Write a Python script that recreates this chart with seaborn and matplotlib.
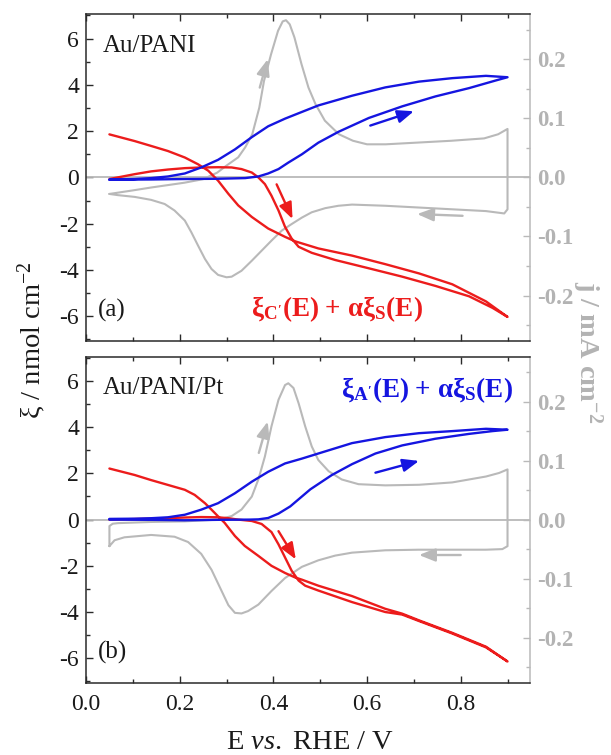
import numpy as np
import pandas as pd
import matplotlib
matplotlib.use("Agg")
import matplotlib.pyplot as plt
from matplotlib.ticker import MultipleLocator
import seaborn as sns

# ---------------- data ----------------
# Panel (a) Au/PANI -- cyclic voltammogram (right axis, mA cm-2)
a_cv_an_E = [0.05, 0.10, 0.14, 0.21, 0.25, 0.28, 0.30, 0.325, 0.34, 0.355, 0.37, 0.38, 0.395,
             0.41, 0.42, 0.427, 0.435, 0.445, 0.46, 0.475, 0.49, 0.51, 0.54, 0.57, 0.60, 0.64,
             0.71, 0.78, 0.85, 0.88, 0.90]
a_cv_an_j = [-0.028, -0.022, -0.017, -0.009, -0.003, 0.008, 0.020, 0.034, 0.051, 0.073, 0.118,
             0.163, 0.208, 0.248, 0.264, 0.266, 0.259, 0.237, 0.192, 0.152, 0.124, 0.096, 0.073,
             0.062, 0.056, 0.056, 0.059, 0.062, 0.066, 0.073, 0.082]
a_cv_ca_E = [0.90, 0.893, 0.854, 0.782, 0.711, 0.639, 0.568, 0.539, 0.511, 0.482, 0.461, 0.439,
             0.418, 0.396, 0.375, 0.354, 0.332, 0.311, 0.300, 0.282, 0.268, 0.254, 0.239, 0.225,
             0.211, 0.189, 0.168, 0.139, 0.104, 0.068, 0.05]
a_cv_ca_j = [-0.054, -0.061, -0.057, -0.054, -0.051, -0.048, -0.046, -0.048, -0.052, -0.059,
             -0.068, -0.079, -0.090, -0.107, -0.124, -0.141, -0.158, -0.168, -0.169, -0.165,
             -0.155, -0.138, -0.115, -0.093, -0.073, -0.056, -0.045, -0.038, -0.033, -0.030, -0.028]

# Panel (a) blue: xi_A' + alpha xi_S (left axis, nmol cm-2)
a_blue_fw_E = [0.05, 0.14, 0.21, 0.28, 0.34, 0.368, 0.389, 0.411, 0.432, 0.461, 0.496, 0.539,
               0.604, 0.675, 0.746, 0.818, 0.875, 0.90]
a_blue_fw_xi = [-0.10, -0.09, -0.07, -0.06, -0.03, 0.04, 0.17, 0.36, 0.64, 1.00, 1.50, 1.97,
                2.57, 3.07, 3.50, 3.86, 4.19, 4.33]
a_blue_rv_E = [0.90, 0.854, 0.782, 0.711, 0.639, 0.568, 0.496, 0.461, 0.425, 0.389, 0.354, 0.318,
               0.282, 0.246, 0.211, 0.175, 0.139, 0.104, 0.05]
a_blue_rv_xi = [4.33, 4.39, 4.29, 4.14, 3.89, 3.53, 3.11, 2.83, 2.54, 2.21, 1.74, 1.21, 0.76,
                0.43, 0.17, 0.04, -0.03, -0.07, -0.10]

# Panel (a) red: xi_C' + alpha xi_S
a_red_fw_E = [0.05, 0.104, 0.139, 0.175, 0.211, 0.246, 0.282, 0.311, 0.332, 0.354, 0.368, 0.382,
              0.396, 0.411, 0.425, 0.439, 0.454, 0.482, 0.532, 0.604, 0.675, 0.746, 0.818, 0.868, 0.90]
a_red_fw_xi = [-0.07, 0.14, 0.26, 0.34, 0.40, 0.43, 0.44, 0.43, 0.36, 0.21, 0.0, -0.29, -0.79,
               -1.43, -2.14, -2.64, -3.0, -3.26, -3.57, -3.93, -4.29, -4.69, -5.14, -5.64, -6.03]
a_red_rv_E = [0.90, 0.854, 0.782, 0.711, 0.639, 0.568, 0.496, 0.446, 0.425, 0.389, 0.354, 0.325,
              0.304, 0.282, 0.261, 0.239, 0.211, 0.175, 0.139, 0.104, 0.05]
a_red_rv_xi = [-6.03, -5.36, -4.62, -4.15, -3.75, -3.38, -3.07, -2.76, -2.57, -2.21, -1.71, -1.21,
               -0.71, -0.14, 0.29, 0.57, 0.86, 1.14, 1.36, 1.57, 1.86]

# Panel (b) Au/PANI/Pt -- cyclic voltammogram
b_cv_an_E = [0.05, 0.05, 0.057, 0.068, 0.139, 0.211, 0.282, 0.311, 0.332, 0.354, 0.368, 0.382,
             0.396, 0.411, 0.425, 0.432, 0.443, 0.454, 0.468, 0.482, 0.496, 0.518, 0.546, 0.582,
             0.639, 0.711, 0.782, 0.854, 0.882, 0.90]
b_cv_an_j = [-0.045, -0.011, -0.007, -0.006, -0.004, -0.003, 0.0, 0.006, 0.017, 0.039, 0.068,
             0.107, 0.158, 0.203, 0.228, 0.231, 0.223, 0.197, 0.158, 0.124, 0.101, 0.082, 0.068,
             0.060, 0.058, 0.059, 0.063, 0.073, 0.079, 0.085]
b_cv_ca_E = [0.90, 0.889, 0.854, 0.782, 0.711, 0.639, 0.568, 0.532, 0.496, 0.461, 0.425, 0.396,
             0.368, 0.346, 0.332, 0.318, 0.304, 0.289, 0.268, 0.246, 0.218, 0.189, 0.139, 0.082,
             0.061, 0.05]
b_cv_ca_j = [-0.045, -0.050, -0.051, -0.051, -0.051, -0.052, -0.056, -0.061, -0.069, -0.080,
             -0.099, -0.121, -0.144, -0.155, -0.159, -0.158, -0.145, -0.120, -0.085, -0.058,
             -0.038, -0.029, -0.026, -0.030, -0.035, -0.045]

# Panel (b) blue
b_blue_fw_E = [0.05, 0.14, 0.21, 0.28, 0.35, 0.368, 0.389, 0.411, 0.436, 0.479, 0.525, 0.568,
               0.618, 0.675, 0.746, 0.818, 0.868, 0.90]
b_blue_fw_xi = [0.0, -0.01, -0.03, -0.01, 0.0, 0.01, 0.07, 0.26, 0.57, 1.31, 1.93, 2.40, 2.86,
                3.21, 3.50, 3.71, 3.83, 3.89]
b_blue_rv_E = [0.90, 0.854, 0.782, 0.711, 0.639, 0.568, 0.496, 0.461, 0.425, 0.389, 0.354, 0.318,
               0.282, 0.246, 0.211, 0.175, 0.139, 0.104, 0.05]
b_blue_rv_xi = [3.89, 3.93, 3.83, 3.74, 3.57, 3.31, 2.86, 2.64, 2.43, 2.07, 1.64, 1.14, 0.71,
                0.43, 0.21, 0.10, 0.06, 0.04, 0.03]

# Panel (b) red
b_red_fw_E = [0.05, 0.139, 0.211, 0.246, 0.282, 0.304, 0.325, 0.354, 0.375, 0.396, 0.411, 0.425,
              0.439, 0.454, 0.468, 0.496, 0.568, 0.639, 0.675, 0.711, 0.782, 0.854, 0.90]
b_red_fw_xi = [0.0, 0.04, 0.09, 0.11, 0.10, 0.06, 0.0, -0.06, -0.19, -0.54, -1.07, -1.64, -2.21,
               -2.64, -2.86, -3.07, -3.57, -4.0, -4.11, -4.39, -4.93, -5.53, -6.14]
b_red_rv_E = [0.90, 0.854, 0.782, 0.711, 0.675, 0.639, 0.568, 0.496, 0.461, 0.446, 0.425, 0.396,
              0.368, 0.339, 0.318, 0.296, 0.282, 0.268, 0.254, 0.232, 0.211, 0.175, 0.139, 0.104, 0.05]
b_red_rv_xi = [-6.14, -5.50, -4.90, -4.36, -4.07, -3.86, -3.31, -2.86, -2.60, -2.50, -2.31, -2.0,
               -1.57, -1.14, -0.71, -0.14, 0.14, 0.43, 0.71, 1.07, 1.29, 1.50, 1.71, 1.93, 2.21]

x_ticks = [0.0, 0.2, 0.4, 0.6, 0.8]
panel_names = ["Au/PANI", "Au/PANI/Pt"]
panel_tags = ["(a)", "(b)"]

# ---------------- style ----------------
sns.set_theme(style="white")
plt.rcParams["font.family"] = ["Liberation Serif", "DejaVu Serif"]
plt.rcParams["mathtext.fontset"] = "custom"
plt.rcParams["mathtext.rm"] = "Liberation Serif"
plt.rcParams["mathtext.it"] = "Liberation Serif:italic"
plt.rcParams["mathtext.bf"] = "Liberation Serif:bold"

RED = "#ec1c1c"
BLUE = "#1515e0"
GREY = "#b9b9b9"
GREY_TXT = "#b3b3b3"
DARK = "#2a2a2a"
TICK_FS = 17
TXT_FS = 18
LAB_FS = 20.5

W, H = 611, 755
fig = plt.figure(figsize=(W / 100, H / 100), dpi=100)
ax_a = fig.add_axes([86 / W, 1 - 340.5 / H, 444 / W, (340.5 - 14.3) / H])
ax_b = fig.add_axes([86 / W, 1 - 682.5 / H, 444 / W, (682.5 - 356.7) / H])


def draw_panel(ax, cv_an_E, cv_an_j, cv_ca_E, cv_ca_j, bfE, bfx, brE, brx, rfE, rfx, rrE, rrx,
               name, tag, bottom):
    tw = ax.twinx()
    ax.set_zorder(tw.get_zorder() + 1)
    ax.patch.set_visible(False)

    cv = pd.DataFrame({"E": cv_an_E + cv_ca_E, "j": cv_an_j + cv_ca_j})
    sns.lineplot(data=cv, x="E", y="j", sort=False, estimator=None, color=GREY, lw=1.5, ax=tw)

    ax.axhline(0, color=GREY, lw=1.3, zorder=1)
    blue = pd.DataFrame({"E": bfE + brE, "xi": bfx + brx})
    red = pd.DataFrame({"E": rfE + rrE, "xi": rfx + rrx})
    sns.lineplot(data=red, x="E", y="xi", sort=False, estimator=None, color=RED, lw=1.7, ax=ax)
    sns.lineplot(data=blue, x="E", y="xi", sort=False, estimator=None, color=BLUE, lw=1.7, ax=ax)

    ax.set_xlim(0, 0.948)
    ax.set_ylim(-7.05, 7.05)
    tw.set_ylim(-0.276, 0.276)
    ax.set_xlabel("")
    ax.set_ylabel("")
    tw.set_xlabel("")
    tw.set_ylabel("")

    ax.xaxis.set_major_locator(MultipleLocator(0.2))
    ax.xaxis.set_minor_locator(MultipleLocator(0.1))
    ax.yaxis.set_major_locator(MultipleLocator(2))
    ax.yaxis.set_minor_locator(MultipleLocator(1))
    tw.yaxis.set_major_locator(MultipleLocator(0.1))
    tw.yaxis.set_minor_locator(MultipleLocator(0.05))
    ax.set_xticks(x_ticks)
    ax.set_xticklabels([f"{v:.1f}" for v in x_ticks] if bottom else [])
    ax.set_yticks([-6, -4, -2, 0, 2, 4, 6])
    ax.set_yticklabels([str(v) for v in [-6, -4, -2, 0, 2, 4, 6]])
    tw.set_yticks([-0.2, -0.1, 0.0, 0.1, 0.2])
    tw.set_yticklabels(["-0.2", "-0.1", "0.0", "0.1", "0.2"])

    ax.tick_params(axis="both", which="both", direction="in", top=True, bottom=True,
                   left=True, right=False, color=DARK, labelcolor="#1a1a1a", labelsize=TICK_FS)
    ax.tick_params(axis="both", which="major", length=5, width=1.0)
    ax.tick_params(axis="both", which="minor", length=3, width=1.0)
    ax.tick_params(axis="y", pad=5)
    ax.tick_params(axis="x", pad=8)
    tw.tick_params(axis="y", which="both", direction="in", color=GREY, labelcolor=GREY_TXT,
                   labelsize=TICK_FS - 0.5, pad=5)
    tw.tick_params(axis="y", which="major", length=5, width=1.0)
    tw.tick_params(axis="y", which="minor", length=3, width=1.0)
    for lab in tw.get_yticklabels():
        lab.set_fontweight("bold")

    for s in ["left", "top", "bottom"]:
        ax.spines[s].set_color(DARK)
        ax.spines[s].set_linewidth(1.1)
        tw.spines[s].set_visible(False)
    ax.spines["right"].set_visible(False)
    tw.spines["right"].set_color(GREY)
    tw.spines["right"].set_linewidth(1.1)
    tw.spines["left"].set_visible(False)

    ax.text(0.036, 5.43, name, fontsize=TXT_FS, color="#1a1a1a", ha="left", va="baseline")
    ax.text(0.025, -6.0, tag, fontsize=TXT_FS, color="#1a1a1a", ha="left", va="baseline")
    return tw


tw_a = draw_panel(ax_a, a_cv_an_E, a_cv_an_j, a_cv_ca_E, a_cv_ca_j, a_blue_fw_E, a_blue_fw_xi,
                  a_blue_rv_E, a_blue_rv_xi, a_red_fw_E, a_red_fw_xi, a_red_rv_E, a_red_rv_xi,
                  panel_names[0], panel_tags[0], False)
tw_b = draw_panel(ax_b, b_cv_an_E, b_cv_an_j, b_cv_ca_E, b_cv_ca_j, b_blue_fw_E, b_blue_fw_xi,
                  b_blue_rv_E, b_blue_rv_xi, b_red_fw_E, b_red_fw_xi, b_red_rv_E, b_red_rv_xi,
                  panel_names[1], panel_tags[1], True)

# series labels
ax_a.text(0.353, -6.0, r"ξ$_{\mathbf{C'}}$(E) + αξ$_{\mathbf{S}}$(E)", fontsize=TXT_FS + 1.5,
          fontweight="bold", color=RED, ha="left", va="baseline")
ax_b.text(0.912, 5.3, r"ξ$_{\mathbf{A'}}$(E) + αξ$_{\mathbf{S}}$(E)", fontsize=TXT_FS + 1.5,
          fontweight="bold", color=BLUE, ha="right", va="baseline")


def arrow(ax, start, end, color):
    ax.annotate("", xy=end, xytext=start,
                arrowprops=dict(arrowstyle="-|>,head_length=0.7,head_width=0.28", lw=1.7,
                                color=color, shrinkA=0, shrinkB=0, mutation_scale=14))


# panel (a) sweep-direction arrows
arrow(ax_a, (0.407, -0.30), (0.441, -1.80), RED)
arrow(ax_a, (0.607, 2.24), (0.700, 2.86), BLUE)
arrow(tw_a, (0.371, 0.152), (0.388, 0.200), GREY)
arrow(tw_a, (0.804, -0.065), (0.707, -0.062), GREY)
# panel (b)
arrow(ax_b, (0.411, -0.50), (0.448, -1.72), RED)
arrow(ax_b, (0.618, 2.03), (0.711, 2.54), BLUE)
arrow(tw_b, (0.369, 0.113), (0.388, 0.166), GREY)
arrow(tw_b, (0.800, -0.060), (0.711, -0.060), GREY)

# axis titles
fig.text(32 / W, 1 - 340 / H, "ξ / nmol cm$^{-2}$", rotation=90, ha="center", va="center",
         fontsize=LAB_FS, color="#1a1a1a")
fig.text(587 / W, 1 - 352 / H, r"j / mA cm$^{\mathbf{-2}}$", rotation=270, ha="center",
         va="center", fontsize=LAB_FS, fontweight="bold", color=GREY_TXT)
fig.text(310 / W, 1 - 749 / H, r"E $\mathit{vs.}$ RHE / V", ha="center", va="baseline",
         fontsize=LAB_FS, color="#1a1a1a")

fig.savefig("out.png", dpi=100)
